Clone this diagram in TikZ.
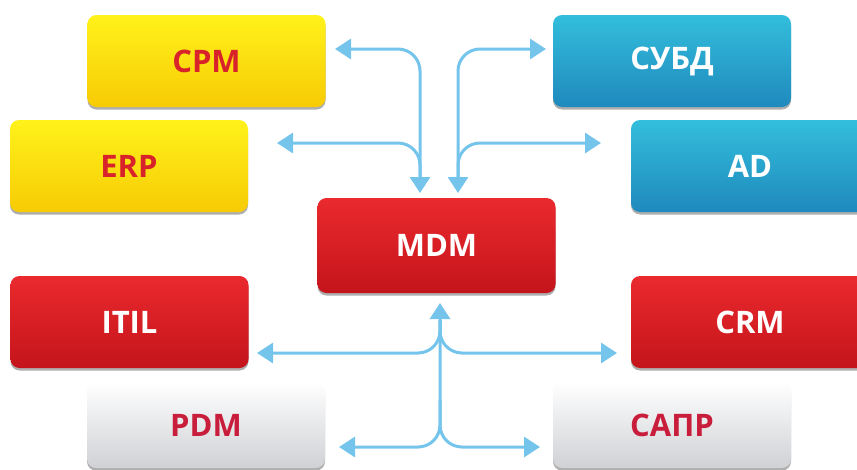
\documentclass[tikz,border=0pt]{standalone}
\usepackage{fontspec}
\setmainfont{Open Sans}
\usetikzlibrary{arrows.meta,shadows}
\definecolor{yelT}{HTML}{FFF21A}
\definecolor{yelB}{HTML}{F7CB05}
\definecolor{bluT}{HTML}{33BEDC}
\definecolor{bluB}{HTML}{1F89BD}
\definecolor{redT}{HTML}{EA2A2E}
\definecolor{redB}{HTML}{C4141B}
\definecolor{gryT}{HTML}{FFFFFF}
\definecolor{gryB}{HTML}{CFD1D4}
\definecolor{txtRed}{HTML}{D8232A}
\definecolor{txtRose}{HTML}{C81E3C}
\definecolor{arrowBlue}{HTML}{74C4EC}
\tikzset{
  box/.style={rounded corners=9pt, minimum width=238pt, minimum height=92pt,
    inner sep=0pt, font=\bfseries\fontsize{31}{31}\selectfont,
    drop shadow={shadow xshift=0pt, shadow yshift=-2.5pt, opacity=0.45, fill=black!70}},
  yelbox/.style={box, top color=yelT, bottom color=yelB, text=txtRed},
  blubox/.style={box, top color=bluT, bottom color=bluB, text=white},
  redbox/.style={box, top color=redT, bottom color=redB, text=white},
  grybox/.style={box, top color=gryT, bottom color=gryB, text=txtRose},
  link/.style={draw=arrowBlue, line width=3pt, rounded corners=22pt,
    arrows={-Triangle[width=20pt,length=16pt,fill=arrowBlue]}},
  linkboth/.style={link, arrows={Triangle[width=20pt,length=16pt,fill=arrowBlue]-Triangle[width=20pt,length=16pt,fill=arrowBlue]}}
}
\begin{document}
\begin{tikzpicture}[x=1pt,y=-1pt]
\useasboundingbox (0,0) rectangle (857,469);
% boxes
\node[yelbox] (cpm) at (206.5,61) {CPM};
\node[yelbox] (erp) at (129,166) {ERP};
\node[blubox] (subd) at (672,61) {СУБД};
\node[blubox] (ad) at (750,166) {AD};
\node[redbox, minimum height=95pt] (mdm) at (436.5,245.5) {MDM};
\node[redbox] (itil) at (129.5,322) {ITIL};
\node[redbox] (crm) at (750,322) {CRM};
\node[grybox, minimum height=86pt] (pdm) at (206,425) {PDM};
\node[grybox, minimum height=86pt] (sapr) at (672,425) {САПР};
% arrow end points
\coordinate (tCPM) at (335,49);
\coordinate (tSUBD) at (546,49);
\coordinate (tERP) at (277,143);
\coordinate (tAD) at (601,143);
\coordinate (inL) at (420,193);
\coordinate (inR) at (458,193);
\coordinate (jL) at (420,185);
\coordinate (jR) at (458,185);
\coordinate (outUp) at (440,303);
\coordinate (jMid) at (440,320);
\coordinate (jLow) at (440,400);
\coordinate (tITIL) at (257,353);
\coordinate (tCRM) at (617,353);
\coordinate (tPDM) at (339,447);
\coordinate (tSAPR) at (540,447);
% top connectors
\draw[linkboth] (tCPM) -| (inL);
\draw[linkboth] (tSUBD) -| (inR);
\draw[link] (jL) |- (tERP);
\draw[link] (jR) |- (tAD);
% bottom connectors
\draw[linkboth] (outUp) |- (tSAPR);
\draw[link] (jLow) |- (tPDM);
\draw[link] (jMid) |- (tITIL);
\draw[link] (jMid) |- (tCRM);
\end{tikzpicture}
\end{document}
